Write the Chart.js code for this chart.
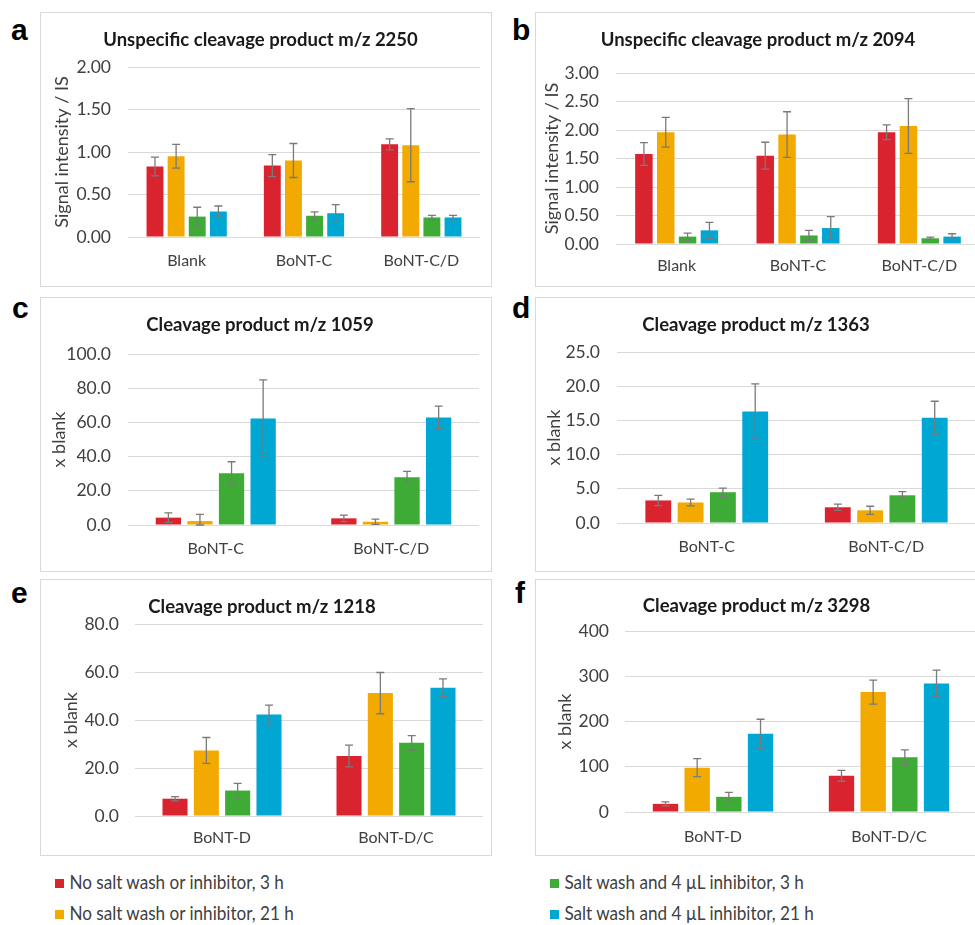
<!DOCTYPE html>
<html>
<head>
<meta charset="utf-8">
<script src="https://cdn.jsdelivr.net/npm/chart.js@4.4.1/dist/chart.umd.min.js"></script>
<style>
  body { margin:0; background:#fff; width:975px; height:925px; overflow:hidden; position:relative; font-family: Lato, sans-serif; }
  .panel { position:absolute; border:1px solid #d9d9d9; box-sizing:border-box; background:#fff; }
  .panel canvas { position:absolute; left:0; top:0; }
  .letter { position:absolute; font: bold 30px "Liberation Sans", Arial, sans-serif; line-height:30px; color:#000; }
  .legend { position:absolute; font: 19px Lato, sans-serif; line-height:22px; color:#404040; white-space:nowrap;
            transform: scaleX(0.9); transform-origin: left center; }
  .legend i { display:inline-block; width:10px; height:9px; margin-right:6px; vertical-align:1px; }
</style>
</head>
<body>
<script>
// series shared by all six panels
const seriesNames = ['No salt wash or inhibitor, 3 h', 'No salt wash or inhibitor, 21 h',
                     'Salt wash and 4 \u00b5L inhibitor, 3 h', 'Salt wash and 4 \u00b5L inhibitor, 21 h'];
const seriesColors = ['#d9232f', '#f2a900', '#3dab35', '#00a7d2'];

// a: unspecific cleavage product m/z 2250
const catsA = ['Blank', 'BoNT-C', 'BoNT-C/D'];
const valsA = [[0.83, 0.84, 1.09], [0.95, 0.90, 1.08], [0.24, 0.25, 0.23], [0.30, 0.28, 0.23]];
const errA  = [[0.11, 0.13, 0.065], [0.14, 0.20, 0.43], [0.11, 0.045, 0.025], [0.065, 0.10, 0.025]];

// b: unspecific cleavage product m/z 2094
const catsB = ['Blank', 'BoNT-C', 'BoNT-C/D'];
const valsB = [[1.58, 1.55, 1.96], [1.96, 1.92, 2.07], [0.13, 0.15, 0.10], [0.24, 0.28, 0.13]];
const errB  = [[0.20, 0.235, 0.13], [0.26, 0.40, 0.48], [0.06, 0.09, 0.02], [0.14, 0.20, 0.05]];

// c: cleavage product m/z 1059
const catsC = ['BoNT-C', 'BoNT-C/D'];
const valsC = [[4.3, 3.9], [2.3, 1.9], [30.2, 27.9], [62.3, 62.9]];
const errC  = [[2.8, 1.9], [3.9, 1.5], [6.8, 3.5], [22.6, 6.6]];

// d: cleavage product m/z 1363
const catsD = ['BoNT-C', 'BoNT-C/D'];
const valsD = [[3.3, 2.3], [3.0, 1.85], [4.5, 4.05], [16.3, 15.4]];
const errD  = [[0.75, 0.45], [0.5, 0.6], [0.6, 0.55], [4.05, 2.4]];

// e: cleavage product m/z 1218
const catsE = ['BoNT-D', 'BoNT-D/C'];
const valsE = [[7.2, 25.0], [27.3, 51.2], [10.6, 30.5], [42.3, 53.4]];
const errE  = [[0.9, 4.5], [5.4, 8.6], [3.0, 3.0], [3.9, 3.7]];

// f: cleavage product m/z 3298
const catsF = ['BoNT-D', 'BoNT-D/C'];
const valsF = [[18, 80], [98, 265], [33.5, 121], [173, 284]];
const errF  = [[4.4, 12], [20, 26.5], [10, 16.4], [32, 29.5]];

const panels = [
  { id:'a', title:'Unspecific cleavage product m/z 2250', yTitle:'Signal intensity / IS', cats:catsA, vals:valsA, err:errA, max:2, step:0.5, dec:2,
    box:[40, 12, 452, 275], L:87, T:54, B:49, R:11, titleY:27, yTitleX:21, gap:17, xLab:24 },
  { id:'b', title:'Unspecific cleavage product m/z 2094', yTitle:'Signal intensity / IS', cats:catsB, vals:valsB, err:errB, max:3, step:0.5, dec:2,
    box:[535, 12, 458, 275], L:80, T:60, B:42, R:12, titleY:27, yTitleX:16, gap:17, xLab:22 },
  { id:'c', title:'Cleavage product m/z 1059', yTitle:'x blank', cats:catsC, vals:valsC, err:errC, max:100, step:20, dec:1,
    box:[40, 297, 452, 275], L:87, T:56, B:46, R:12, titleY:27, yTitleX:18, gap:17, xLab:24 },
  { id:'d', title:'Cleavage product m/z 1363', yTitle:'x blank', cats:catsD, vals:valsD, err:errD, max:25, step:5, dec:1,
    box:[535, 297, 458, 275], L:81, T:54, B:48, R:16, titleY:27, yTitleX:18, gap:17, xLab:24 },
  { id:'e', title:'Cleavage product m/z 1218', yTitle:'x blank', cats:catsE, vals:valsE, err:errE, max:80, step:20, dec:1,
    box:[40, 579, 452, 277], L:94, T:44, B:39, R:8, titleY:27, yTitleX:30, gap:16, xLab:22 },
  { id:'f', title:'Cleavage product m/z 3298', yTitle:'x blank', cats:catsF, vals:valsF, err:errF, max:400, step:100, dec:0,
    box:[535, 579, 458, 277], L:89, T:51, B:43, R:15, titleY:26, yTitleX:29, gap:16, xLab:25 }
];

const letterPos = { a:[11, 40], b:[512, 40], c:[12, 318], d:[512, 318], e:[11, 603], f:[515, 603] };

// error bars drawn with the chart's own y scale
const errorBars = {
  id: 'errorBars',
  afterDatasetsDraw(chart) {
    const ctx = chart.ctx, ys = chart.scales.y;
    ctx.save();
    ctx.strokeStyle = '#7a7a7a';
    ctx.lineWidth = 1.3;
    chart.data.datasets.forEach((ds, i) => {
      chart.getDatasetMeta(i).data.forEach((bar, j) => {
        const v = ds.data[j], e = ds.err[j];
        const yTop = ys.getPixelForValue(v + e), yBot = ys.getPixelForValue(Math.max(v - e, 0));
        ctx.beginPath();
        ctx.moveTo(bar.x, yTop); ctx.lineTo(bar.x, yBot);
        ctx.moveTo(bar.x - 4, yTop); ctx.lineTo(bar.x + 4, yTop);
        ctx.moveTo(bar.x - 4, yBot); ctx.lineTo(bar.x + 4, yBot);
        ctx.stroke();
      });
    });
    ctx.restore();
  }
};

panels.forEach(p => {
  const div = document.createElement('div');
  div.className = 'panel';
  div.style.left = p.box[0] + 'px'; div.style.top = p.box[1] + 'px';
  div.style.width = p.box[2] + 'px'; div.style.height = p.box[3] + 'px';
  const cv = document.createElement('canvas');
  cv.width = p.box[2] - 2; cv.height = p.box[3] - 2;
  div.appendChild(cv);
  document.body.appendChild(div);

  const lt = document.createElement('div');
  lt.className = 'letter';
  lt.textContent = p.id;
  lt.style.left = letterPos[p.id][0] + 'px';
  lt.style.top = (letterPos[p.id][1] - 25) + 'px';
  document.body.appendChild(lt);

  new Chart(cv, {
    type: 'bar',
    data: {
      labels: p.cats,
      datasets: p.vals.map((v, i) => ({
        label: seriesNames[i], data: v, err: p.err[i],
        backgroundColor: seriesColors[i], borderWidth: 0,
        categoryPercentage: 0.72, barPercentage: 0.8
      }))
    },
    options: {
      responsive: false, animation: false,
      layout: { padding: { left: 0, top: 0, right: p.R, bottom: 0 } },
      plugins: {
        legend: { display: false },
        tooltip: { enabled: false },
        title: { display: true, text: p.title, color: '#1a1a1a',
                 font: { family: 'Lato', size: 18.5, weight: 'bold' },
                 padding: { top: p.titleY - 11.1, bottom: p.T - p.titleY - 11.1 } }
      },
      scales: {
        x: {
          grid: { display: false, drawTicks: false },
          border: { display: false },
          ticks: { color: '#404040', font: { family: 'Lato', size: 16 }, padding: p.xLab - 10 },
          afterFit: s => { s.height = p.B; }
        },
        y: {
          min: 0, max: p.max,
          grid: { color: '#d9d9d9', lineWidth: 1, drawTicks: false },
          border: { display: false },
          ticks: { stepSize: p.step, color: '#404040', font: { family: 'Lato', size: 17.5 }, padding: p.gap,
                   callback: v => v.toFixed(p.dec) },
          title: { display: true, text: p.yTitle, color: '#404040', font: { family: 'Lato', size: 18 },
                   padding: { top: p.yTitleX - 10.8, bottom: 0 } },
          afterFit: s => { s.width = p.L; }
        }
      }
    },
    plugins: [errorBars]
  });
});

// shared legend
const legendPos = [[55, 871], [55, 902], [550, 871], [550, 902]];
seriesNames.forEach((n, i) => {
  const d = document.createElement('div');
  d.className = 'legend';
  d.style.left = legendPos[i][0] + 'px'; d.style.top = legendPos[i][1] + 'px';
  d.innerHTML = '<i style="background:' + seriesColors[i] + '"></i>' + n;
  document.body.appendChild(d);
});
</script>
</body>
</html>
